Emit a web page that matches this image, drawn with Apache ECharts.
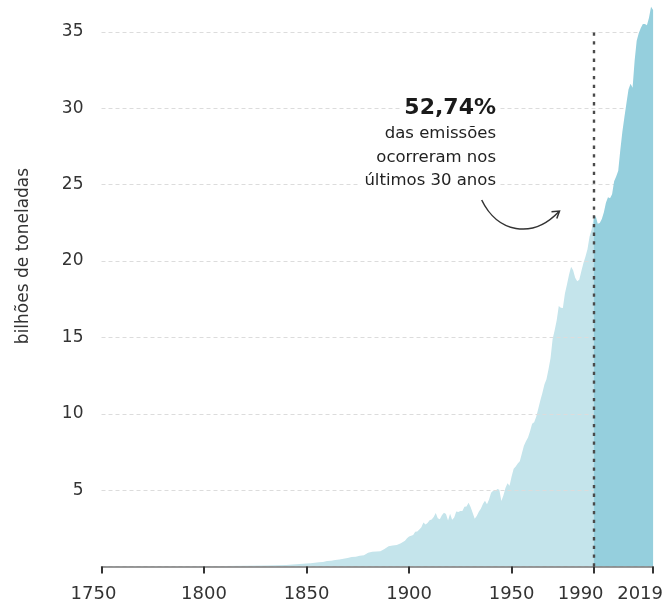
<!DOCTYPE html>
<html><head><meta charset="utf-8">
<script src="https://cdn.jsdelivr.net/npm/echarts@6/dist/echarts.min.js"></script>
<style>html,body{margin:0;padding:0;background:#fff}#c{width:666px;height:604px}</style>
</head><body><div id="c"></div>
<script>
// Global CO2 emissions, billions of tonnes
const years = [1750,1760,1770,1780,1790,1800,1810,1820,1830,1840,1845,
1850,1852,1854,1856,1858,1860,1862,1864,1866,1868,1870,1872,1874,1876,1878,1880,1882,1884,1886,1888,1890,1892,1894,1896,1898,1899,
1900,1901,1902,1903,1904,1905,1906,1907,1908,1909,1910,1911,1912,1913,1914,1915,1916,1917,1918,1919,
1920,1921,1922,1923,1924,1925,1926,1927,1928,1929,1930,1931,1932,1933,1934,1935,1936,1937,1938,1939,
1940,1941,1942,1943,1944,1945,1946,1947,1948,1949,1950,1951,1952,1953,1954,1955,1956,1957,1958,1959,
1960,1961,1962,1963,1964,1965,1966,1967,1968,1969,1970,1971,1972,1973,1974,1975,1976,1977,1978,1979,
1980,1981,1982,1983,1984,1985,1986,1987,1988,1989,1990,1991,1992,1993,1994,1995,1996,1997,1998,1999,
2000,2001,2002,2003,2004,2005,2006,2007,2008,2009,2010,2011,2012,2013,2014,2015,2016,2017,2018,2019];
const emissions = [0.009,0.010,0.011,0.013,0.015,0.028,0.035,0.044,0.067,0.10,0.14,
0.20,0.22,0.25,0.28,0.30,0.36,0.38,0.43,0.46,0.51,0.55,0.63,0.64,0.70,0.73,0.90,0.96,0.99,1.00,1.15,1.33,1.38,1.40,1.53,1.68,1.85,
1.97,2.02,2.07,2.27,2.29,2.43,2.57,2.88,2.75,2.85,3.03,3.08,3.24,3.51,3.16,3.09,3.35,3.52,3.43,3.01,
3.46,3.06,3.21,3.60,3.57,3.63,3.63,3.92,3.93,4.17,3.89,3.52,3.13,3.31,3.58,3.78,4.10,4.31,4.08,4.38,
4.83,4.96,4.93,5.07,5.03,4.29,4.65,5.14,5.45,5.29,5.90,6.40,6.55,6.75,6.90,7.40,7.90,8.20,8.45,8.85,
9.35,9.45,9.80,10.33,10.87,11.36,11.91,12.26,12.91,13.66,14.89,15.47,16.12,17.06,16.95,16.92,17.87,18.47,19.10,19.62,
19.40,18.90,18.68,18.77,19.33,19.86,20.29,20.77,21.59,22.05,22.76,22.95,22.44,22.50,22.75,23.20,23.82,24.18,24.12,24.38,
25.23,25.54,25.92,27.26,28.45,29.42,30.33,31.23,31.61,31.35,33.13,34.42,34.92,35.27,35.52,35.52,35.45,35.93,36.65,36.44];
const xTickYears = [1750,1800,1850,1900,1950,1990,2019];
const splitYear = 1990;
const yMax = 35;
const yStep = 5;
const yAxisTitle = 'bilhões de toneladas';
const noteHead = '52,74%';
const noteLines = ['das emissões','ocorreram nos','últimos 30 anos'];

const FONT = '"DejaVu Sans", sans-serif';
const before = [], after = [];
years.forEach((y, i) => {
  if (y <= splitYear) before.push([y, emissions[i]]);
  if (y >= splitYear) after.push([y, emissions[i]]);
});

const chart = echarts.init(document.getElementById('c'), null, {renderer: 'canvas'});
const labelRich = {
  s: {padding: [0, 26, 0, 0], fontSize: 18, fontFamily: FONT, color: '#333'},
  f: {padding: [0, 16, 0, 0], fontSize: 18, fontFamily: FONT, color: '#333'}
};
chart.setOption({
  animation: false,
  grid: {left: 101.5, right: 9.7, top: 32, bottom: 37.5, containLabel: false},
  xAxis: {
    type: 'value', min: years[0], max: years[years.length - 1], z: 3,
    splitLine: {show: false},
    axisLine: {show: true, onZero: false, lineStyle: {color: '#7a7a7a', width: 1.5}},
    axisTick: {show: true, customValues: xTickYears, length: 7, lineStyle: {color: '#333', width: 2}},
    axisLabel: {
      customValues: xTickYears, margin: 19, fontSize: 18, fontFamily: FONT, color: '#333',
      formatter: v => (v === 1990 || v === 2019) ? '{s|' + v + '}' : (v === 1750 ? '{f|' + v + '}' : String(v)),
      rich: labelRich
    }
  },
  yAxis: {
    type: 'value', min: 0, max: yMax, interval: yStep, z: 1,
    axisLine: {show: false}, axisTick: {show: false},
    axisLabel: {margin: 18, fontSize: 17, fontFamily: FONT, color: '#333', formatter: v => v === 0 ? '' : String(v)},
    splitLine: {show: true, lineStyle: {color: '#dcdcdc', width: 1, type: [4, 3]}}
  },
  series: [
    {
      type: 'line', data: before, z: 0, clip: false, showSymbol: false, smooth: false,
      lineStyle: {width: 0}, areaStyle: {color: '#c4e4eb', opacity: 1}
    },
    {
      type: 'line', data: after, z: 2, clip: false, showSymbol: false, smooth: false,
      lineStyle: {width: 0}, areaStyle: {color: '#95cfdd', opacity: 1},
      markLine: {
        silent: true, symbol: 'none', label: {show: false},
        lineStyle: {color: '#4a4a4a', width: 2.4, type: [3.3, 5.4]},
        data: [[{coord: [splitYear, 0]}, {coord: [splitYear, yMax]}]]
      }
    }
  ],
  graphic: [
    {type: 'text', x: 24, y: 256, rotation: Math.PI / 2,
     style: {text: yAxisTitle, fontSize: 17, fontFamily: FONT, fill: '#333', align: 'center', verticalAlign: 'middle'}},
    {type: 'text', x: 498, y: 108, z: 10,
     style: {text: noteHead, fontSize: 22, fontWeight: 'bold', fontFamily: FONT, fill: '#1a1a1a', align: 'right', verticalAlign: 'middle',
             backgroundColor: '#fff', padding: [0, 2, 0, 4]}},
    ...noteLines.map((t, i) => ({type: 'text', x: 498, y: 134 + i * 23.4, z: 10,
     style: {text: t, fontSize: 16.5, fontFamily: FONT, fill: '#222', align: 'right', verticalAlign: 'middle',
             backgroundColor: '#fff', padding: [0, 2, 0, 4]}})),
    {type: 'bezierCurve', shape: {x1: 481.7, y1: 200, cpx1: 497, cpy1: 232, cpx2: 532, cpy2: 240, x2: 559, y2: 211.5},
     style: {stroke: '#333', lineWidth: 1.5, fill: null}},
    {type: 'polyline', shape: {points: [[551.5, 211.8], [559.5, 211], [556.8, 218.6]]},
     style: {stroke: '#333', lineWidth: 1.5, fill: null}}
  ]
});
</script></body></html>
